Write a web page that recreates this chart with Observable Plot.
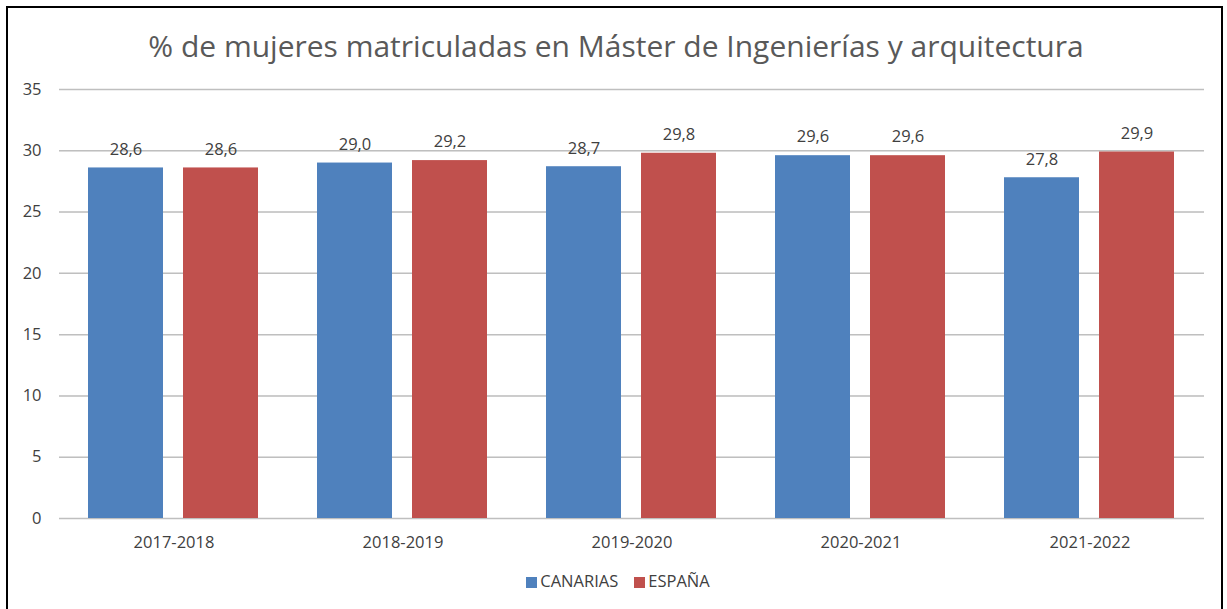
<!DOCTYPE html>
<html>
<head>
<meta charset="utf-8">
<script src="https://cdn.jsdelivr.net/npm/d3@7"></script>
<script src="https://cdn.jsdelivr.net/npm/@observablehq/plot@0.6"></script>
<style>
  html, body { margin: 0; padding: 0; width: 1227px; height: 609px; overflow: hidden; background: #fff; }
  #frame { position: absolute; left: 6px; top: 6px; width: 1213px; height: 640px; border: 2px solid #000; box-sizing: content-box; }
  #title { position: absolute; left: 0; width: 1232px; top: 25px; text-align: center; font-family: "Open Sans", sans-serif; font-size: 30px; color: #595959; white-space: nowrap; }
  #chart { position: absolute; left: 0; top: 0; }
  #legend { position: absolute; left: 0; width: 1236px; top: 569px; text-align: center; font-family: "Open Sans", sans-serif; font-size: 16.5px; color: #404040; }
  #legend span.sw { display: inline-block; width: 11px; height: 11px; margin-right: 3px; vertical-align: -1px; }
  #legend span.item { margin: 0 8px; }
</style>
</head>
<body>
<div id="frame"></div>
<div id="title">% de mujeres matriculadas en Máster de Ingenierías y arquitectura</div>
<div id="chart"></div>
<div id="legend"></div>
<script>
const years = ["2017-2018", "2018-2019", "2019-2020", "2020-2021", "2021-2022"];
const series = ["CANARIAS", "ESPAÑA"];
const canarias = [28.6, 29.0, 28.7, 29.6, 27.8];
const espana = [28.6, 29.2, 29.8, 29.6, 29.9];
const colors = ["#4F81BD", "#C0504D"];
const yTicks = [0, 5, 10, 15, 20, 25, 30, 35];

const data = [];
years.forEach((y, i) => {
  data.push({year: y, serie: series[0], value: canarias[i]});
  data.push({year: y, serie: series[1], value: espana[i]});
});

const fmt = v => v.toFixed(1).replace(".", ",");

const chart = Plot.plot({
  width: 1227,
  height: 560,
  marginLeft: 57,
  marginRight: 22,
  marginTop: 89,
  marginBottom: 42,
  style: {fontFamily: "Open Sans, sans-serif", fontSize: "16.5px", color: "#404040", background: "transparent"},
  fx: {domain: years, padding: 0, label: null, tickSize: 0, tickPadding: 18, axis: "bottom"},
  x: {domain: series, paddingInner: 0.2083, paddingOuter: 0.30, axis: null},
  y: {domain: [0, 35], ticks: yTicks, label: null, tickSize: 0, tickPadding: 18, grid: true},
  color: {domain: series, range: colors},
  marks: [
    Plot.gridY(yTicks, {stroke: "#bfbfbf", strokeOpacity: 1, strokeWidth: 1.5}),
    Plot.barY(data, {fx: "year", x: "serie", y: "value", fill: "serie"}),
    Plot.text(data, {fx: "year", x: "serie", y: "value", text: d => fmt(d.value), dy: -18.5, fill: "#404040", fontSize: 16.5})
  ]
});
document.getElementById("chart").appendChild(chart);

const legend = document.getElementById("legend");
series.forEach((s, i) => {
  const item = document.createElement("span");
  item.className = "item";
  const sw = document.createElement("span");
  sw.className = "sw";
  sw.style.background = colors[i];
  item.appendChild(sw);
  item.appendChild(document.createTextNode(s));
  legend.appendChild(item);
});
</script>
</body>
</html>
